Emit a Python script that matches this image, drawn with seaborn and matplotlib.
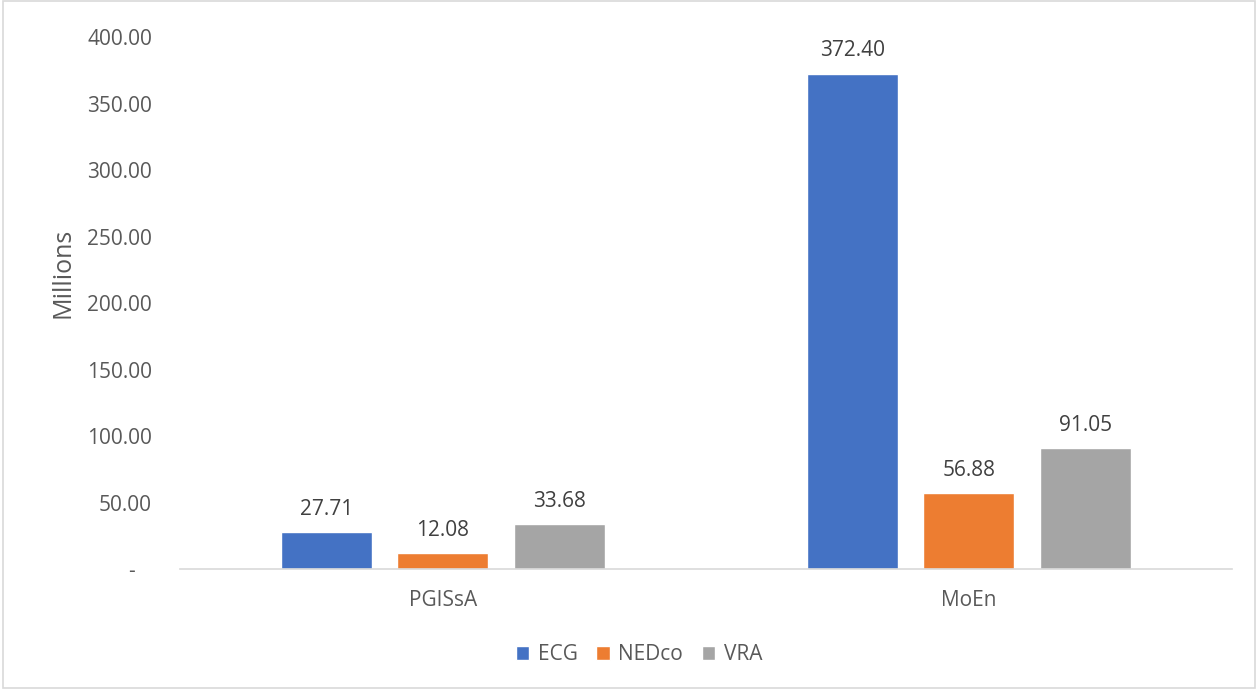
import matplotlib
matplotlib.use("Agg")
import matplotlib.pyplot as plt
import seaborn as sns
import pandas as pd
from matplotlib.patches import Rectangle

categories = ["PGISsA", "MoEn"]
series = ["ECG", "NEDco", "VRA"]
ecg = [27.71, 372.40]
nedco = [12.08, 56.88]
vra = [33.68, 91.05]
colors = ["#4472C4", "#ED7D31", "#A5A5A5"]
yticks = [0, 50, 100, 150, 200, 250, 300, 350, 400]

rows = []
for s, vals in zip(series, [ecg, nedco, vra]):
    for c, v in zip(categories, vals):
        rows.append({"cat": c, "series": s, "value": v})
df = pd.DataFrame(rows)

sns.set_theme(style="white")
plt.rcParams['font.family'] = ['Open Sans', 'DejaVu Sans']
txt = "#595959"
fs = 15

fig = plt.figure(figsize=(12.58, 6.89), dpi=100)
ax = fig.add_axes([0.143, 0.174, 0.836, 0.772])

sns.barplot(data=df, x="cat", y="value", hue="series", order=categories,
            hue_order=series, palette=colors, width=0.665, gap=0.22,
            saturation=1, ax=ax, legend=True)

for cont in ax.containers:
    ax.bar_label(cont, labels=[f"{v:.2f}" for v in cont.datavalues],
                 padding=9, fontsize=fs, color="#404040")

ax.set_ylim(0, 400)
ax.set_xlim(-0.5, 1.5)
ax.set_yticks(yticks)
ax.set_yticklabels(["-   "] + [f"{v:.2f}" for v in yticks[1:]], fontsize=fs, color=txt)
ax.tick_params(axis="x", labelsize=fs, colors=txt, length=0, pad=15)
ax.tick_params(axis="y", length=0, pad=20)
ax.set_xlabel("")
ax.set_ylabel("")
fig.text(63 / 1258, 1 - 273 / 689, "Millions", rotation=90, fontsize=18,
         color=txt, ha="center", va="center")
for sp in ["top", "right", "left"]:
    ax.spines[sp].set_visible(False)
ax.spines["bottom"].set_color("#D9D9D9")
ax.spines["bottom"].set_linewidth(1.2)

handles, labels = ax.get_legend_handles_labels()
ax.get_legend().remove()
leg = fig.legend(handles, labels, loc="center", bbox_to_anchor=(639 / 1258, 1 - 655 / 689),
                 ncol=3, frameon=False, fontsize=fs, handlelength=0.65, handleheight=0.65,
                 columnspacing=0.9, handletextpad=0.4)
for t in leg.get_texts():
    t.set_color(txt)

fig.patches.append(Rectangle((0.002, 0.002), 0.996, 0.996, transform=fig.transFigure,
                             fill=False, edgecolor="#D9D9D9", linewidth=1.2))

fig.savefig("out.png", dpi=100)
